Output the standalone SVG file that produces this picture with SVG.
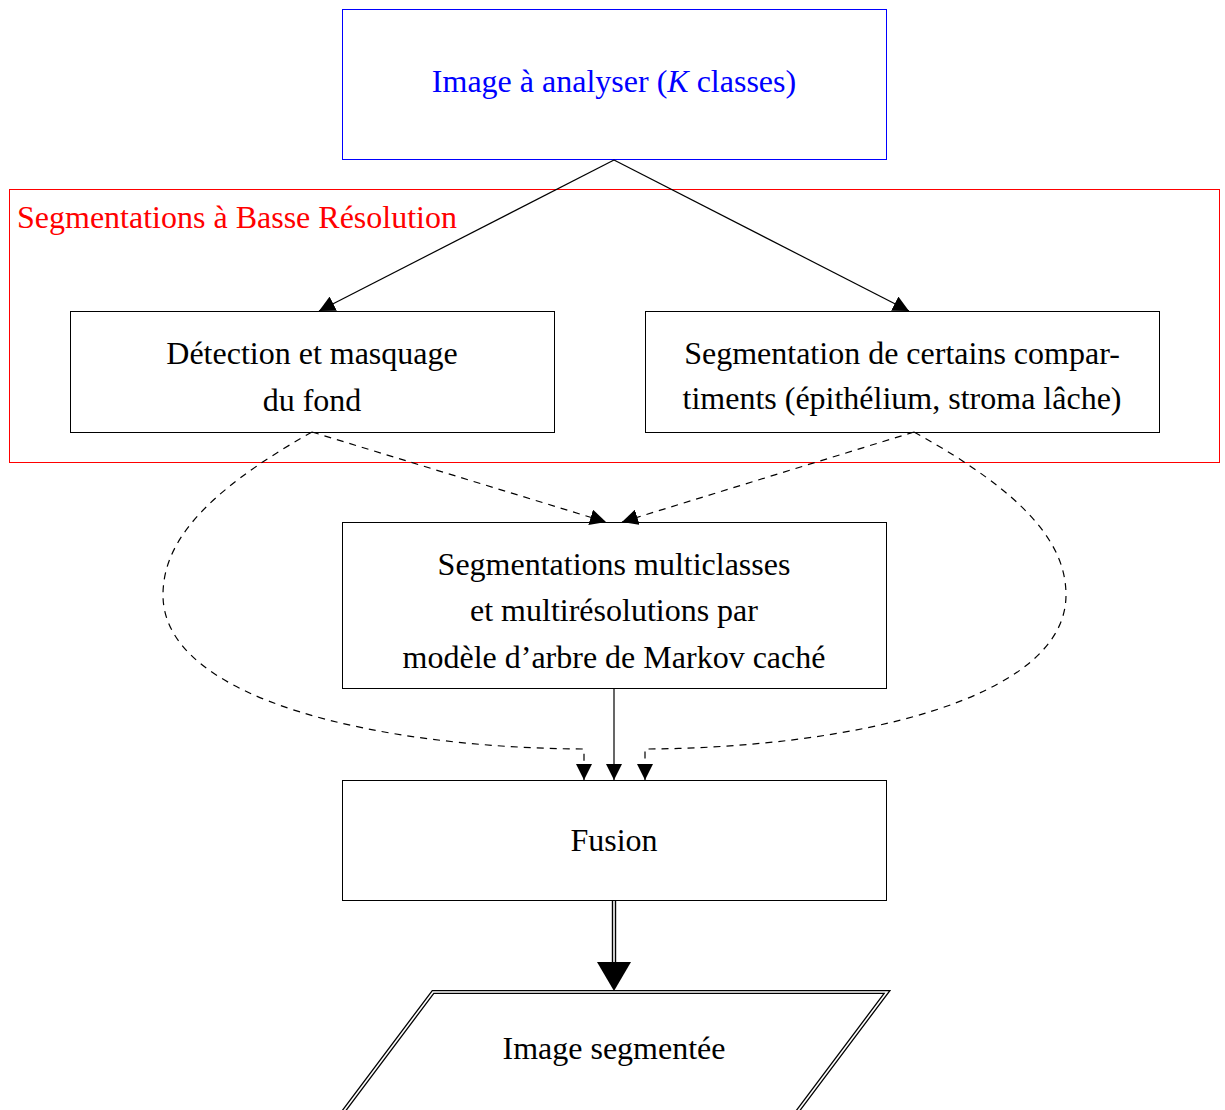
<svg xmlns="http://www.w3.org/2000/svg" width="1225" height="1110" viewBox="0 0 1225 1110">
  <style>
    .t { font-family: "Liberation Serif", "Times New Roman", serif; font-size: 32px; fill: #000; text-anchor: middle; }
    .box { fill: none; stroke: #000; stroke-width: 1; }
    .ln { fill: none; stroke: #000; stroke-width: 1.2; }
    .dash { fill: none; stroke: #000; stroke-width: 1.2; stroke-dasharray: 7 6; }
  </style>
  <defs>
    <marker id="tri" viewBox="0 0 10 10" refX="10" refY="5" markerWidth="16" markerHeight="16" markerUnits="userSpaceOnUse" orient="auto">
      <path d="M0,0 L10,5 L0,10 Z" fill="#000"/>
    </marker>
  </defs>
  <rect width="1225" height="1110" fill="#fff"/>

  <g id="input">
    <rect x="342.5" y="9.5" width="544" height="150" fill="none" stroke="#0000ff" stroke-width="1"/>
    <text class="t" x="614" y="92" style="fill:#0000ff">Image à analyser (<tspan font-style="italic">K</tspan> classes)</text>
  </g>

  <g id="low-res">
    <rect x="9.5" y="189.5" width="1210" height="273" fill="none" stroke="#ff0000" stroke-width="1"/>
    <text class="t" x="17" y="228" style="fill:#ff0000;text-anchor:start">Segmentations à Basse Résolution</text>
  </g>

  <g id="background">
    <rect class="box" x="70.5" y="311.5" width="484" height="121"/>
    <text class="t" x="312" y="364">Détection et masquage</text>
    <text class="t" x="312" y="411">du fond</text>
  </g>

  <g id="compartments">
    <rect class="box" x="645.5" y="311.5" width="514" height="121"/>
    <text class="t" x="902" y="364">Segmentation de certains compar-</text>
    <text class="t" x="902" y="409">timents (épithélium, stroma lâche)</text>
  </g>

  <g id="hmt">
    <rect class="box" x="342.5" y="522.5" width="544" height="166"/>
    <text class="t" x="614" y="575">Segmentations multiclasses</text>
    <text class="t" x="614" y="621">et multirésolutions par</text>
    <text class="t" x="614" y="668">modèle d’arbre de Markov caché</text>
  </g>

  <g id="fusion">
    <rect class="box" x="342.5" y="780.5" width="544" height="120"/>
    <text class="t" x="614" y="851">Fusion</text>
  </g>

  <g id="output">
    <path d="M433,992 L887,992 L797,1112 L343,1112 Z" fill="none" stroke="#000" stroke-width="4.2"/>
    <path d="M433,992 L887,992 L797,1112 L343,1112 Z" fill="none" stroke="#fff" stroke-width="1.6"/>
    <text class="t" x="614" y="1059">Image segmentée</text>
  </g>

  <g id="connectors">
    <path class="ln" d="M614,160 L319,311" marker-end="url(#tri)"/>
    <path class="ln" d="M614,160 L909,311" marker-end="url(#tri)"/>
    <path class="dash" d="M312,432 L606,522" marker-end="url(#tri)"/>
    <path class="dash" d="M914,432 L622,522" marker-end="url(#tri)"/>
    <path class="dash" d="M312,432 C200,495 163,545 163,595 C163,700 380,748 584,749 L584,766"/>
    <path class="dash" d="M914,432 C1028,495 1066,545 1066,595 C1066,700 850,748 645,749 L645,766"/>
    <path class="ln" d="M584,764 L584,780" marker-end="url(#tri)"/>
    <path class="ln" d="M645,764 L645,780" marker-end="url(#tri)"/>
    <path class="ln" d="M614,689 L614,780" marker-end="url(#tri)"/>
    <path d="M614,901 L614,966" stroke="#000" stroke-width="4.4" fill="none"/>
    <path d="M614,901 L614,966" stroke="#fff" stroke-width="1.6" fill="none"/>
    <path d="M597,962 L631,962 L614,991 Z" fill="#000"/>
  </g>
</svg>
